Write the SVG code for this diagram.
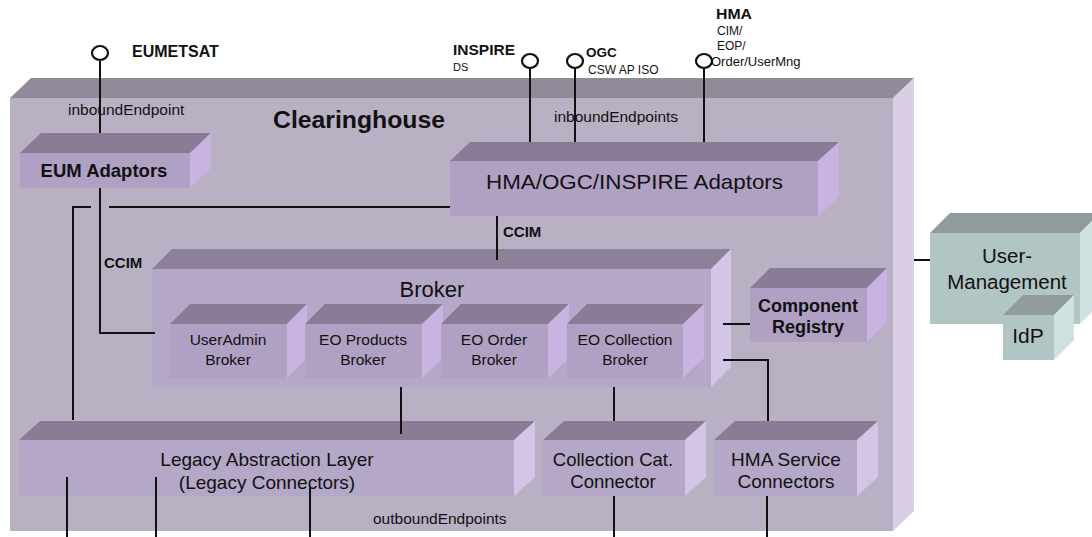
<svg xmlns="http://www.w3.org/2000/svg" width="1092" height="537" viewBox="0 0 1092 537">
<style>
text{font-family:"Liberation Sans",Arial,sans-serif;fill:#111}
.b{font-weight:bold}
.m{text-anchor:middle}
.ct{fill:#918a99}.cf{fill:#b9b0c4}.cs{fill:#d9cee5}
.t{fill:#8a7b97}.f{fill:#b0a0c4}.s{fill:#c9b4e1}
.bt{fill:#8d8099}.bf{fill:#b4a7c7}.bs{fill:#d3c5e5}
.gt{fill:#8f9c9b}.gf{fill:#b1c5c4}.gs{fill:#cfe2e2}
.ln{stroke:#111;stroke-width:2;fill:none}
.ep{stroke:#111;stroke-width:2.2;fill:#fff}
</style>
<rect width="1092" height="537" fill="#fff"/>
<g id="clearinghouse">
<polygon class="ct" points="10,98 31,78 914,78 893,98"/>
<polygon class="cs" points="893,98 914,78 914,511 893,531"/>
<rect class="cf" x="10" y="98" width="883" height="433"/>
<text class="b" x="273" y="128" font-size="23" textLength="172" lengthAdjust="spacingAndGlyphs">Clearinghouse</text>
</g>
<g id="eum-adaptors">
<polygon class="t" points="20,153 41,133 211,133 190,153"/>
<polygon class="s" points="190,153 211,133 211,168 190,188"/>
<rect class="f" x="20" y="153" width="170" height="35"/>
<text class="b m" x="104" y="177" font-size="18.5">EUM Adaptors</text>
</g>
<g id="hma-adaptors">
<polygon class="t" points="450,161 470,142 839,142 818,161"/>
<polygon class="s" points="818,161 839,142 839,197 818,216"/>
<rect class="f" x="450" y="161" width="368" height="55"/>
<text x="486" y="189" font-size="21" textLength="297" lengthAdjust="spacingAndGlyphs">HMA/OGC/INSPIRE Adaptors</text>
</g>
<g id="broker">
<polygon class="bt" points="152,269 172,249 731,249 711,269"/>
<polygon class="bs" points="711,269 731,249 731,367 711,387"/>
<rect class="bf" x="152" y="269" width="559" height="118"/>
<text class="m" x="432" y="297" font-size="22">Broker</text>
</g>
<g id="useradmin-broker">
<polygon class="t" points="170,324 190,304 307,304 287,324"/>
<polygon class="s" points="287,324 307,304 307,358 287,378"/>
<rect class="f" x="170" y="324" width="117" height="54"/>
<text class="m" x="228" y="345" font-size="15.5">UserAdmin</text>
<text class="m" x="228" y="365" font-size="15.5">Broker</text>
</g>
<g id="eo-products-broker">
<polygon class="t" points="305,324 325,304 443,304 422,324"/>
<polygon class="s" points="422,324 443,304 443,358 422,378"/>
<rect class="f" x="305" y="324" width="117" height="54"/>
<text class="m" x="363" y="345" font-size="15.5">EO Products</text>
<text class="m" x="363" y="365" font-size="15.5">Broker</text>
</g>
<g id="eo-order-broker">
<polygon class="t" points="441,324 461,304 569,304 548,324"/>
<polygon class="s" points="548,324 569,304 569,358 548,378"/>
<rect class="f" x="441" y="324" width="107" height="54"/>
<text class="m" x="494" y="345" font-size="15.5">EO Order</text>
<text class="m" x="494" y="365" font-size="15.5">Broker</text>
</g>
<g id="eo-collection-broker">
<polygon class="t" points="567,324 587,304 704,304 683,324"/>
<polygon class="s" points="683,324 704,304 704,358 683,378"/>
<rect class="f" x="567" y="324" width="116" height="54"/>
<text class="m" x="625" y="345" font-size="15.5">EO Collection</text>
<text class="m" x="625" y="365" font-size="15.5">Broker</text>
</g>
<g id="component-registry">
<polygon class="t" points="750,288 770,268 887,268 867,288"/>
<polygon class="s" points="867,288 887,268 887,322 867,342"/>
<rect class="f" x="750" y="288" width="117" height="54"/>
<text class="b m" x="808" y="312" font-size="18">Component</text>
<text class="b m" x="808" y="333" font-size="18">Registry</text>
</g>
<g id="legacy-layer">
<polygon class="t" points="19,440 40,421 535,421 514,440"/>
<polygon class="bs" points="514,440 535,421 535,477 514,496"/>
<rect class="bf" x="19" y="440" width="495" height="56"/>
<text class="m" x="267" y="466" font-size="19">Legacy Abstraction Layer</text>
<text class="m" x="267" y="489" font-size="19">(Legacy Connectors)</text>
</g>
<g id="collection-cat-connector">
<polygon class="t" points="543,440 564,421 706,421 685,440"/>
<polygon class="bs" points="685,440 706,421 706,477 685,496"/>
<rect class="bf" x="543" y="440" width="142" height="56"/>
<text class="m" x="613" y="466" font-size="18.5">Collection Cat.</text>
<text class="m" x="613" y="488" font-size="18.5">Connector</text>
</g>
<g id="hma-service-connectors">
<polygon class="t" points="714,440 735,421 878,421 857,440"/>
<polygon class="bs" points="857,440 878,421 878,477 857,496"/>
<rect class="bf" x="714" y="440" width="143" height="56"/>
<text class="m" x="786" y="466" font-size="19">HMA Service</text>
<text class="m" x="786" y="488" font-size="19">Connectors</text>
</g>
<g id="user-management">
<polygon class="gt" points="930,233 950,213 1100,213 1080,233"/>
<polygon class="gs" points="1080,233 1100,213 1100,304 1080,324"/>
<rect class="gf" x="930" y="233" width="150" height="91"/>
<text class="m" x="1007" y="263" font-size="20.5">User-</text>
<text class="m" x="1007" y="289" font-size="20.5">Management</text>
</g>
<g id="idp">
<polygon class="gt" points="1003,315 1023,295 1074,295 1054,315"/>
<polygon class="gs" points="1054,315 1074,295 1074,340 1054,360"/>
<rect class="gf" x="1003" y="315" width="51" height="45"/>
<text class="m" x="1028" y="343" font-size="21">IdP</text>
</g>
<g id="connectors">
<path class="ln" d="M100,61V133 M530,68V142 M575,68V142 M704,68V142"/>
<path class="ln" d="M100,188V333H155"/>
<path class="ln" d="M450,207H109 M91,207H73V420"/>
<path class="ln" d="M497,216V260 M401,387V434 M614,387V421"/>
<path class="ln" d="M723,324H750 M723,360H768V421"/>
<path class="ln" d="M914,260H930"/>
<path class="ln" d="M67,477V537 M156,477V537 M310,486V537 M614,496V537 M767,496V537"/>
<ellipse class="ep" cx="100" cy="53" rx="8" ry="7"/>
<ellipse class="ep" cx="530" cy="61" rx="8" ry="7"/>
<ellipse class="ep" cx="575" cy="61" rx="8" ry="7"/>
<ellipse class="ep" cx="704" cy="61" rx="8" ry="7"/>
</g>
<g id="labels">
<text class="b" x="132" y="57" font-size="16">EUMETSAT</text>
<text x="68" y="115" font-size="15.5">inboundEndpoint</text>
<text class="b" x="453" y="55" font-size="15.5">INSPIRE</text>
<text x="453" y="71" font-size="11">DS</text>
<text class="b" x="586" y="57" font-size="13.5">OGC</text>
<text x="588" y="74" font-size="12">CSW AP ISO</text>
<text class="b" x="716" y="19" font-size="14" textLength="36" lengthAdjust="spacingAndGlyphs">HMA</text>
<text x="717" y="35" font-size="12">CIM/</text>
<text x="717" y="50" font-size="12">EOP/</text>
<text x="711" y="66" font-size="13">Order/UserMng</text>
<text x="554" y="122" font-size="15.5">inboundEndpoints</text>
<text class="b" x="104" y="268" font-size="15">CCIM</text>
<text class="b" x="503" y="237" font-size="15">CCIM</text>
<text x="373" y="524" font-size="15.5">outboundEndpoints</text>
</g>
</svg>
